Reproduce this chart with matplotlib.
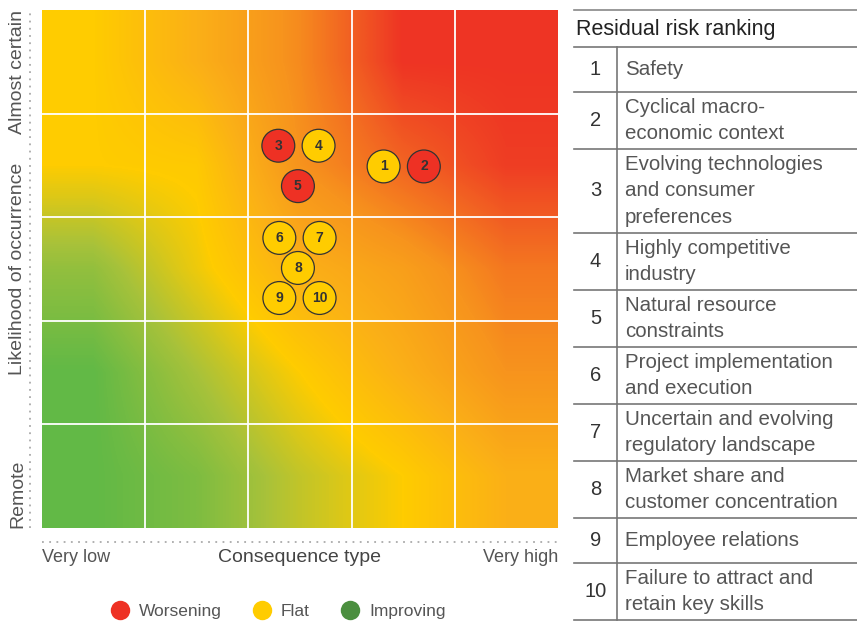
import numpy as np
import matplotlib.pyplot as plt
from matplotlib.colors import LinearSegmentedColormap
from matplotlib.lines import Line2D

plt.rcParams['font.family'] = ['Liberation Sans', 'DejaVu Sans']

# risk positions on the 5x5 matrix (x = consequence, y = likelihood, cell units)
risk_ids = ['1', '2', '3', '4', '5', '6', '7', '8', '9', '10']
risk_x = [3.31, 3.70, 2.29, 2.68, 2.48, 2.30, 2.69, 2.48, 2.30, 2.69]
risk_y = [3.49, 3.49, 3.69, 3.69, 3.30, 2.80, 2.80, 2.51, 2.22, 2.22]
risk_trend = ['Flat', 'Worsening', 'Worsening', 'Flat', 'Worsening',
              'Flat', 'Flat', 'Flat', 'Flat', 'Flat']

trend_colors = {'Worsening': '#ee3124', 'Flat': '#ffcc00', 'Improving': '#4b8f3f'}

table_title = 'Residual risk ranking'
table_labels = ['Safety',
                'Cyclical macro-\neconomic context',
                'Evolving technologies\nand consumer\npreferences',
                'Highly competitive\nindustry',
                'Natural resource\nconstraints',
                'Project implementation\nand execution',
                'Uncertain and evolving\nregulatory landscape',
                'Market share and\ncustomer concentration',
                'Employee relations',
                'Failure to attract and\nretain key skills']

# background heat level at each cell centre (0 green .. 6 red), top row first
cell_levels = [
    [2.0, 3.0, 4.2, 6.0, 6.0],
    [2.0, 2.1, 4.0, 5.0, 5.8],
    [0.7, 1.8, 3.0, 3.6, 4.6],
    [0.0, 1.0, 2.0, 3.0, 4.0],
    [0.0, 0.4, 1.3, 2.0, 3.0],
]
heat_colors = ['#62b946', '#a8c23a', '#ffcc00', '#fbb017', '#f7941d',
               '#f26522', '#ee3424']

W, H = 857, 621
fig = plt.figure(figsize=(W / 100, H / 100), dpi=100)

# ---- heat map ----
x0, x1, ytop, ybot = 42, 558, 10, 528
ax = fig.add_axes([x0 / W, 1 - ybot / H, (x1 - x0) / W, (ybot - ytop) / H])

cmap = LinearSegmentedColormap.from_list('heat', heat_colors)
levels = np.pad(np.array(cell_levels), 1, mode='edge')
ax.imshow(levels, cmap=cmap, vmin=0, vmax=6, extent=[-1, 6, -1, 6],
          interpolation='bilinear', interpolation_stage='data', aspect='auto')
for k in range(1, 5):
    ax.axvline(k, color='white', lw=1.3)
    ax.axhline(k, color='white', lw=1.3)
ax.set_xlim(0, 5)
ax.set_ylim(0, 5)
ax.set_xticks([])
ax.set_yticks([])
for s in ax.spines.values():
    s.set_visible(False)

ax.scatter(risk_x, risk_y, s=560, c=[trend_colors[t] for t in risk_trend],
           edgecolors='#333333', linewidths=0.9, zorder=3)
for rid, x, y in zip(risk_ids, risk_x, risk_y):
    ax.text(x, y, rid, ha='center', va='center', fontsize=10, fontweight='bold',
            color='#333333', zorder=4)

# axis decorations
ax.plot([-0.12, -0.12], [0, 5], ls=(0, (1, 3)), color='#aaaaaa', lw=1.3,
        clip_on=False)
ax.plot([0, 5], [-0.135, -0.135], ls=(0, (1, 3)), color='#aaaaaa', lw=1.3,
        clip_on=False)
lab = dict(color='#555555', fontsize=14)
ax.text(-0.235, 5.0, 'Almost certain', rotation=90, ha='center', va='top', **lab)
ax.text(-0.235, 2.5, 'Likelihood of occurrence', rotation=90, ha='center',
        va='center', **lab)
ax.text(-0.235, 0.0, 'Remote', rotation=90, ha='center', va='bottom', **lab)
ax.text(0, -0.28, 'Very low', ha='left', va='center', color='#555555', fontsize=13)
ax.text(2.5, -0.28, 'Consequence type', ha='center', va='center', color='#444444',
        fontsize=14)
ax.text(5, -0.28, 'Very high', ha='right', va='center', color='#555555', fontsize=13)

handles = [Line2D([], [], ls='none', marker='o', markersize=14,
                  markerfacecolor=trend_colors[t], markeredgecolor='none')
           for t in ['Worsening', 'Flat', 'Improving']]
fig.legend(handles, ['Worsening', 'Flat', 'Improving'], loc='center',
           bbox_to_anchor=(274 / W, 1 - 611 / H), ncol=3, frameon=False,
           fontsize=12.5, handletextpad=0.1, columnspacing=1.3,
           labelcolor='#555555')

# ---- table ----
tx = fig.add_axes([0, 0, 1, 1], zorder=-1)
tx.set_xlim(0, W)
tx.set_ylim(H, 0)
tx.axis('off')
left, mid, right = 574, 617, 857
tx.plot([left, right], [9.5, 9.5], color='#888888', lw=1.2)
tx.text(left + 2, 29, table_title, ha='left', va='center', fontsize=15.5,
        color='#222222')
y = 47
tx.plot([left, right], [y, y], color='#777777', lw=1.2)
for i, label in enumerate(table_labels):
    n = label.count('\n') + 1
    h = max(45, 3 + 27 * n)
    tx.text((left + mid) / 2, y + h / 2, str(i + 1), ha='center', va='center',
            fontsize=14.5, color='#333333')
    tx.text(mid + 8, y + h / 2, label, ha='left', va='center', fontsize=14.8,
            color='#555555', linespacing=1.53)
    tx.plot([mid, mid], [y, y + h], color='#777777', lw=1.2)
    y += h
    tx.plot([left, right], [y, y], color='#777777', lw=1.2)

fig.savefig('out.png', dpi=100)
